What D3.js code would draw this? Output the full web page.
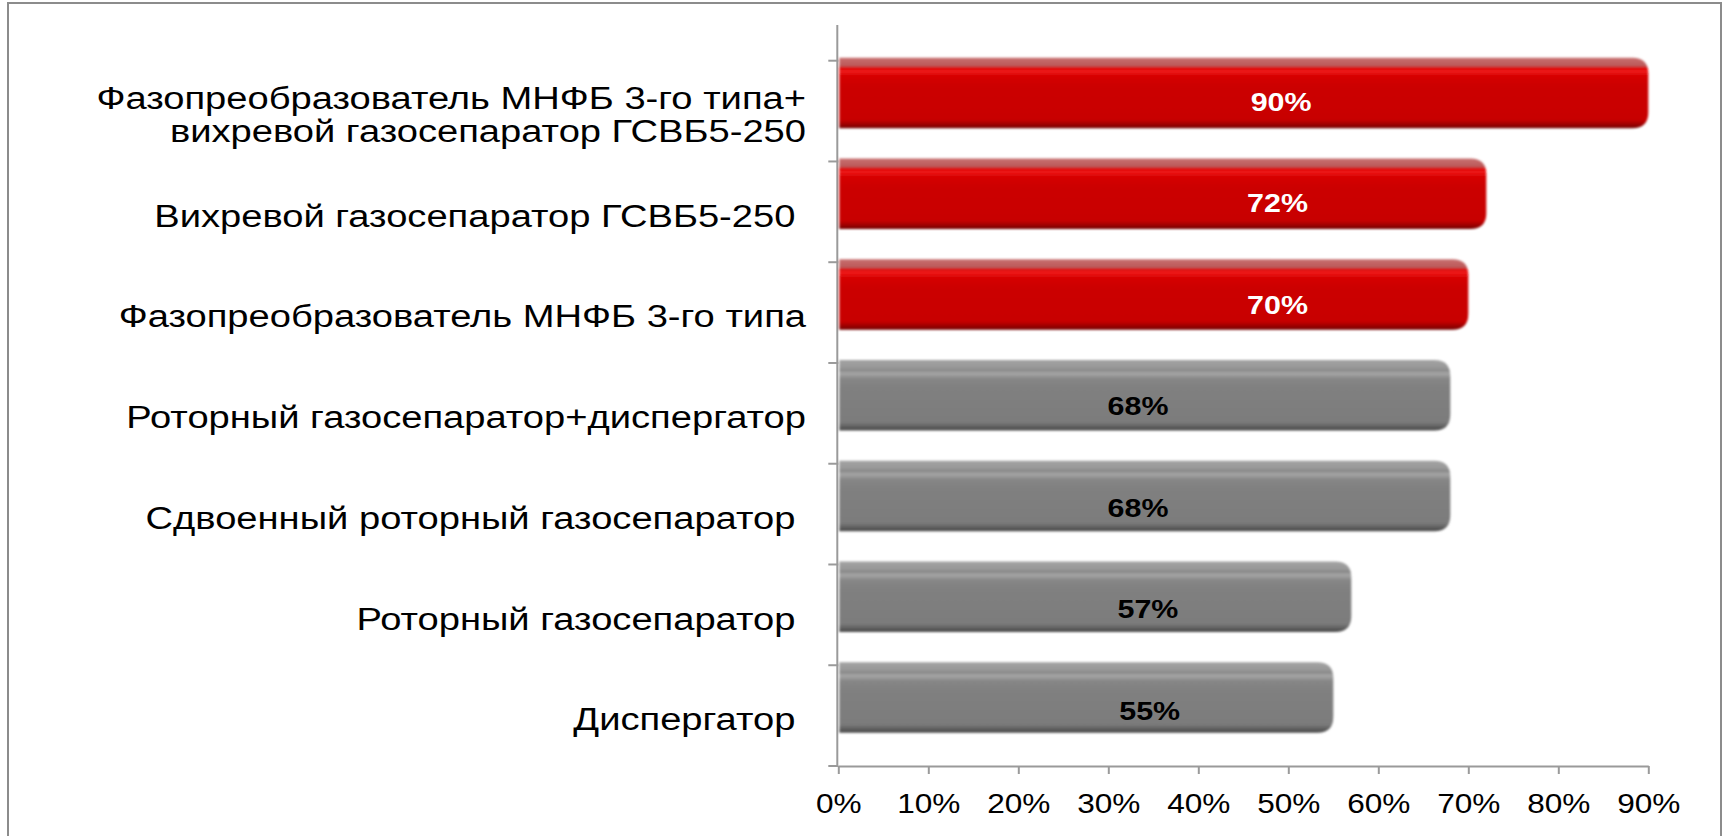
<!DOCTYPE html>
<html>
<head>
<meta charset="utf-8">
<script src="https://cdn.jsdelivr.net/npm/d3@7"></script>
<style>
  html, body { margin: 0; padding: 0; background: #ffffff; }
  svg { display: block; }
  text { font-family: "Liberation Sans", Arial, sans-serif; }
</style>
</head>
<body>
<svg id="chart" width="1727" height="836"></svg>
<script>
// ---------------- DATA ----------------
const categories = [
  ["Фазопреобразователь МНФБ 3-го типа+", "вихревой газосепаратор ГСВБ5-250"],
  ["Вихревой газосепаратор ГСВБ5-250 "],
  ["Фазопреобразователь МНФБ 3-го типа"],
  ["Роторный газосепаратор+диспергатор"],
  ["Сдвоенный роторный газосепаратор "],
  ["Роторный газосепаратор "],
  ["Диспергатор "]
];
const values = [90, 72, 70, 68, 68, 57, 55];
const valueLabels = ["90%", "72%", "70%", "68%", "68%", "57%", "55%"];
const highlighted = [true, true, true, false, false, false, false];
const xTickValues = [0, 10, 20, 30, 40, 50, 60, 70, 80, 90];
const xTickLabels = ["0%", "10%", "20%", "30%", "40%", "50%", "60%", "70%", "80%", "90%"];

// ---------------- LAYOUT ----------------
const svg = d3.select("#chart");
const plot = { left: 838.3, right: 1648.3, top: 60.7, bottom: 766 };
const stretch = 1.17; // text in the original is horizontally stretched

// outer frame
svg.append("rect")
  .attr("x", 8).attr("y", 3)
  .attr("width", 1713).attr("height", 840)
  .attr("fill", "none").attr("stroke", "#8c8c8c").attr("stroke-width", 2);

const ids = categories.map((c, i) => "c" + i);
const x = d3.scaleLinear().domain([0, 90]).range([plot.left, plot.right]);
const y = d3.scaleBand().domain(ids).range([plot.top, plot.bottom]).paddingInner(0).paddingOuter(0);

// gradients + soft edge filter
const defs = svg.append("defs");
function grad(id, stops) {
  const g = defs.append("linearGradient").attr("id", id)
    .attr("x1", 0).attr("y1", 0).attr("x2", 0).attr("y2", 1);
  stops.forEach(s => g.append("stop").attr("offset", s[0]).attr("stop-color", s[1]));
}
grad("gRed", [
  [0.00, "#c87070"], [0.12, "#bb5858"], [0.14, "#d80606"], [0.19, "#f01818"],
  [0.26, "#d60202"], [0.40, "#cc0000"], [0.88, "#c80000"], [0.95, "#9a0000"], [1.0, "#6e0000"]
]);
grad("gGray", [
  [0.00, "#a4a4a4"], [0.12, "#969696"], [0.14, "#868686"], [0.19, "#a6a6a6"],
  [0.27, "#868686"], [0.40, "#808080"], [0.88, "#7c7c7c"], [0.95, "#5e5e5e"], [1.0, "#484848"]
]);
defs.append("filter").attr("id", "soft")
  .attr("x", "-2%").attr("y", "-10%").attr("width", "104%").attr("height", "120%")
  .append("feGaussianBlur").attr("stdDeviation", 0.9);

// y axis line
const axisColor = "#9a9a9a";
svg.append("line")
  .attr("x1", plot.left - 1).attr("x2", plot.left - 1)
  .attr("y1", 25).attr("y2", plot.bottom)
  .attr("stroke", axisColor).attr("stroke-width", 2);

// y ticks at band boundaries
const yBounds = ids.map(d => y(d)).concat([plot.bottom]);
svg.selectAll(".ytick").data(yBounds).enter().append("line")
  .attr("x1", plot.left - 10).attr("x2", plot.left)
  .attr("y1", d => d).attr("y2", d => d)
  .attr("stroke", axisColor).attr("stroke-width", 2);

// x axis
const xAxis = d3.axisBottom(x)
  .tickValues(xTickValues)
  .tickFormat((d, i) => xTickLabels[i])
  .tickSize(8).tickSizeOuter(0).tickPadding(20);
const gx = svg.append("g").attr("transform", `translate(0,${plot.bottom})`).call(xAxis);
gx.select(".domain").attr("stroke", axisColor).attr("stroke-width", 2);
gx.selectAll(".tick line").attr("stroke", axisColor).attr("stroke-width", 2);
gx.selectAll(".tick text")
  .attr("fill", "#000").attr("font-size", 27)
  .attr("font-family", "'Liberation Sans', Arial, sans-serif")
  .attr("transform", `scale(${stretch},1)`);

// bars
const barOffset = -3, barFrac = 0.70, rad = 16;
function barPath(x0, x1, y0, h) {
  const r = Math.min(rad, (x1 - x0));
  return `M${x0},${y0} L${x1 - r},${y0} Q${x1},${y0} ${x1},${y0 + r} L${x1},${y0 + h - r} Q${x1},${y0 + h} ${x1 - r},${y0 + h} L${x0},${y0 + h} Z`;
}
const bh = y.bandwidth() * barFrac;
svg.selectAll(".bar").data(values).enter().append("path")
  .attr("d", (v, i) => barPath(x(0) + 1, x(v), y(ids[i]) + barOffset, bh))
  .attr("fill", (v, i) => highlighted[i] ? "url(#gRed)" : "url(#gGray)")
  .attr("filter", "url(#soft)");

// value labels (positions in axis units, as placed in the original)
const labelAt = [49.2, 48.8, 48.8, 33.3, 33.3, 34.4, 34.6];
const vl = svg.selectAll(".vlab").data(values).enter().append("g")
  .attr("transform", (v, i) => `translate(${x(labelAt[i])},${y(ids[i]) + 41 + i * 0.7}) scale(${stretch},1)`);
vl.append("text")
  .attr("text-anchor", "middle").attr("dominant-baseline", "central")
  .attr("font-size", 26).attr("font-weight", "bold")
  .attr("fill", (v, i) => highlighted[i] ? "#ffffff" : "#000000")
  .text((v, i) => valueLabels[i]);

// category labels
const lineH = 33, catStretch = 1.23;
categories.forEach((lines, i) => {
  const cy = y(ids[i]) + y.bandwidth() / 2 + 4;
  const g = svg.append("g").attr("transform", `translate(806,${cy}) scale(${catStretch},1)`);
  const t = g.append("text")
    .attr("text-anchor", "end")
    .attr("font-size", 31)
    .attr("fill", "#000")
    .style("white-space", "pre");
  lines.forEach((ln, j) => {
    t.append("tspan")
      .attr("x", 0)
      .attr("y", (j - (lines.length - 1) / 2) * lineH)
      .attr("dominant-baseline", "central")
      .text(ln);
  });
});
</script>
</body>
</html>
